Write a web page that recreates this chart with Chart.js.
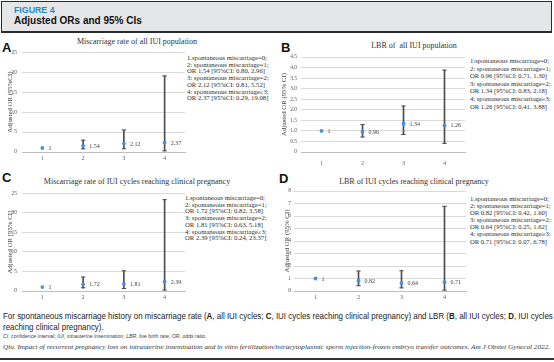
<!DOCTYPE html>
<html>
<head>
<meta charset="utf-8">
<script src="https://cdn.jsdelivr.net/npm/chart.js@4/dist/chart.umd.min.js"></script>
<style>
  html, body { margin: 0; padding: 0; background: #fff; }
  body { position: relative; width: 554px; height: 362px; overflow: hidden; font-family: "Liberation Sans", Arial, sans-serif; }
  .abs { position: absolute; }
  .hdr { left: 1px; top: 1px; width: 549px; height: 29px; background: #e5e6e7; border: 1px solid #2b2b2b; border-bottom-width: 2px; }
  .fig { left: 14px; top: 5px; font: bold 8.8px "Liberation Sans", sans-serif; color: #1e8bd2; }
  .ttl { left: 14px; top: 15px; font: bold 10px "Liberation Sans", sans-serif; color: #111; }
  .letter { font: bold 13px "Liberation Sans", Arial, sans-serif; color: #111; line-height: 13px; }
  .ptitle { font: 8px "Liberation Serif", serif; color: #333; white-space: nowrap; transform: translateX(-50%); }
  .side { font: 6.7px "Liberation Serif", serif; color: #2e2e2e; white-space: pre; line-height: 6.7px; }
  canvas { position: absolute; }
  .fit { left: 3px; white-space: nowrap; transform-origin: 0 0; }
  .cap { font: 9.2px "Liberation Sans", sans-serif; color: #222; line-height: 10.5px; }
  .foot { left: 3px; top: 333px; font: 5.2px "Liberation Sans", sans-serif; color: #444; white-space: nowrap; }
  .cite { top: 343px; font: italic 7px "Liberation Serif", serif; color: #333; }
  .rule { left: 0; top: 358px; width: 554px; height: 2px; background: #333; }
</style>
</head>
<body>
<div class="abs hdr"></div>
<div class="abs fig">FIGURE 4</div>
<div class="abs ttl">Adjusted ORs and 95% CIs</div>

<div class="abs letter" style="left:2px;top:41px">A</div>
<div class="abs letter" style="left:281px;top:41px">B</div>
<div class="abs letter" style="left:2px;top:171px">C</div>
<div class="abs letter" style="left:279px;top:172px">D</div>

<div class="abs ptitle" style="left:137px;top:37px">Miscarriage rate of all IUI population</div>
<div class="abs ptitle" style="left:414px;top:41px">LBR of &nbsp;all IUI population</div>
<div class="abs ptitle" style="left:137px;top:177px">Miscarriage rate of IUI cycles reaching clinical pregnancy</div>
<div class="abs ptitle" style="left:414px;top:177px">LBR of IUI cycles reaching clinical pregnancy</div>

<div id="sideA" class="abs side" style="left:187px;top:55px"></div>
<div id="sideB" class="abs side" style="left:470px;top:57px;font-size:6.6px;line-height:7.6px"></div>
<div id="sideC" class="abs side" style="left:185px;top:195px"></div>
<div id="sideD" class="abs side" style="left:470px;top:195px;font-size:6.6px;line-height:7.1px"></div>

<canvas id="chartA"></canvas>
<canvas id="chartB"></canvas>
<canvas id="chartC"></canvas>
<canvas id="chartD"></canvas>

<div id="cap1" class="abs fit cap" style="top:311px">For spontaneous miscarriage history on miscarriage rate (<b>A</b>, all IUI cycles; <b>C</b>, IUI cycles reaching clinical pregnancy) and LBR (<b>B</b>, all IUI cycles; <b>D</b>, IUI cycles</div>
<div id="cap2" class="abs fit cap" style="top:321.5px">reaching clinical pregnancy).</div>
<div class="abs foot"><i>CI</i>, confidence interval; <i>IUI</i>, intrauterine insemination; <i>LBR</i>, live birth rate; <i>OR</i>, odds ratio.</div>
<div id="cite" class="abs fit cite">Qiu. Impact of recurrent pregnancy loss on intrauterine insemination and in vitro fertilization/intracytoplasmic sperm injection-frozen embryo transfer outcomes. Am J Obstet Gynecol 2022.</div>
<div class="abs rule"></div>

<script>
// spontaneous miscarriage history groups (x axis)
const categories = ['1', '2', '3', '4'];

// A: miscarriage rate, all IUI cycles
const orA = [1, 1.54, 2.12, 2.37];
const lowA = [null, 0.80, 0.81, 0.29];
const highA = [null, 2.96, 5.52, 19.08];

// B: LBR, all IUI cycles
const orB = [1, 0.96, 1.34, 1.26];
const lowB = [null, 0.71, 0.83, 0.41];
const highB = [null, 1.30, 2.18, 3.88];

// C: miscarriage rate, IUI cycles reaching clinical pregnancy
const orC = [1, 1.72, 1.81, 2.39];
const lowC = [null, 0.82, 0.63, 0.24];
const highC = [null, 3.58, 5.18, 23.37];

// D: LBR, IUI cycles reaching clinical pregnancy
const orD = [1, 0.82, 0.64, 0.71];
const lowD = [null, 0.42, 0.25, 0.07];
const highD = [null, 1.60, 1.62, 6.78];

// y axis ranges
const yMaxA = 25, yStepA = 5;
const yMaxB = 4.5, yStepB = 0.5;
const yMaxC = 25, yStepC = 5;
const yMaxD = 8, yStepD = 1;

const SERIF = '"Liberation Serif", "Times New Roman", serif';
const POINT_BLUE = '#4a8ee0';
const BAR_GREY = '#4d4d4d';

// squeeze the caption lines to the page width (the original uses a narrow face)
function fitWidth(id, target) {
  const el = document.getElementById(id);
  const w = el.scrollWidth;
  el.style.transform = 'scaleX(' + (target / w) + ')';
  return target / w;
}
const capScale = fitWidth('cap1', 550);
document.getElementById('cap2').style.transform = 'scaleX(' + capScale + ')';
fitWidth('cite', 547);

// group descriptions next to each panel
function sideText(or, lo, hi, firstSep) {
  const f = v => v.toFixed(2);
  const lines = ['1' + firstSep + 'spontaneous miscarriage=0;'];
  for (let i = 1; i < or.length; i++) {
    const rel = i === 3 ? '\u22653;' : '=' + i + ';';
    lines.push((i + 1) + ': spontaneous miscarriage' + rel);
    lines.push('OR ' + f(or[i]) + ' [95%CI: ' + f(lo[i]) + ', ' + f(hi[i]) + ']');
  }
  return lines.join('\n');
}
document.getElementById('sideA').textContent = sideText(orA, lowA, highA, '.');
document.getElementById('sideB').textContent = sideText(orB, lowB, highB, ':');
document.getElementById('sideC').textContent = sideText(orC, lowC, highC, '.');
document.getElementById('sideD').textContent = sideText(orD, lowD, highD, '.');

// value label to the right of each OR point
const valueLabels = {
  id: 'valueLabels',
  afterDatasetsDraw(chart) {
    const ds = chart.data.datasets[0];
    const meta = chart.getDatasetMeta(0);
    const ctx = chart.ctx;
    ctx.save();
    ctx.font = '6px ' + SERIF;
    ctx.fillStyle = '#444';
    ctx.textBaseline = 'middle';
    meta.data.forEach((pt, i) => {
      ctx.fillText(String(ds.data[i]), pt.x + 6, pt.y + 0.5);
    });
    ctx.restore();
  }
};

function makePanel(id, box, or, lo, hi, yMax, yStep, yTitle) {
  const cv = document.getElementById(id);
  cv.style.left = box.left + 'px';
  cv.style.top = box.top + 'px';
  cv.width = box.width;
  cv.height = box.height;
  cv.style.width = box.width + 'px';
  cv.style.height = box.height + 'px';

  return new Chart(cv, {
    type: 'bar',
    data: {
      labels: categories,
      datasets: [
        {
          type: 'line', label: 'OR', data: or, order: 0,
          showLine: false, pointRadius: 1.9, pointBackgroundColor: POINT_BLUE,
          pointBorderColor: POINT_BLUE, pointBorderWidth: 0,
        },
        {
          type: 'line', label: 'upper', data: hi, order: 1,
          showLine: false, pointStyle: 'line', pointRadius: 2.2,
          pointBorderColor: BAR_GREY, pointBorderWidth: 1,
        },
        {
          type: 'line', label: 'lower', data: lo, order: 1,
          showLine: false, pointStyle: 'line', pointRadius: 2.2,
          pointBorderColor: BAR_GREY, pointBorderWidth: 1,
        },
        {
          type: 'bar', label: '95% CI', order: 2,
          data: lo.map((l, i) => (l == null ? null : [l, hi[i]])),
          backgroundColor: BAR_GREY, borderWidth: 0, barThickness: 1,
        },
      ],
    },
    options: {
      responsive: false,
      animation: false,
      events: [],
      layout: { padding: { top: box.padTop, right: box.padRight, left: 0, bottom: 0 } },
      plugins: { legend: { display: false }, tooltip: { enabled: false }, title: { display: false } },
      scales: {
        x: {
          grid: { display: false, drawTicks: false },
          border: { display: true, color: '#bdbdbd', width: 1 },
          ticks: { font: { family: SERIF, size: 5.5 }, color: '#555', padding: box.xPad, maxRotation: 0 },
          afterFit: s => { s.height = box.xHeight; },
        },
        y: {
          min: 0, max: yMax,
          grid: { color: '#d9d9d9', drawTicks: false },
          border: { display: false },
          ticks: { stepSize: yStep, font: { family: SERIF, size: 5.5 }, color: '#555', padding: box.yPad },
          title: {
            display: true, text: yTitle, color: '#444',
            font: { family: SERIF, size: 6.8 }, padding: { top: box.titlePad, bottom: 0 },
          },
          afterFit: s => { s.width = box.yWidth; },
        },
      },
    },
    plugins: [valueLabels],
  });
}

makePanel('chartA',
  { left: 0, top: 44, width: 190, height: 126, padTop: 8, padRight: 5, xHeight: 18, xPad: 3, yWidth: 22, yPad: 5, titlePad: 6 },
  orA, lowA, highA, yMaxA, yStepA, 'Adjusted OR (95%CI)');
makePanel('chartB',
  { left: 277, top: 48, width: 193, height: 122, padTop: 9, padRight: 4, xHeight: 18, xPad: 8, yWidth: 24, yPad: 4, titlePad: 3 },
  orB, lowB, highB, yMaxB, yStepB, 'Adjusted OR (95% CI)');
makePanel('chartC',
  { left: 0, top: 185, width: 190, height: 124, padTop: 8, padRight: 5, xHeight: 18, xPad: 3, yWidth: 22, yPad: 5, titlePad: 6 },
  orC, lowC, highC, yMaxC, yStepC, 'Adjusted OR [95% CI]');
makePanel('chartD',
  { left: 277, top: 183, width: 194, height: 126, padTop: 8, padRight: 3, xHeight: 18, xPad: 3, yWidth: 17, yPad: 3, titlePad: 6 },
  orD, lowD, highD, yMaxD, yStepD, 'Adjusted OR (95% CI)');
</script>
</body>
</html>
